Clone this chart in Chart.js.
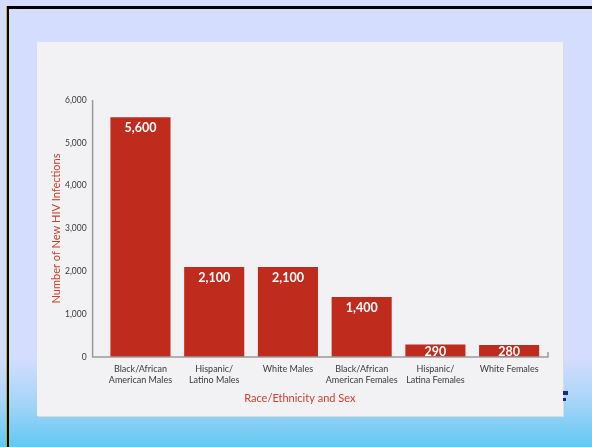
<!DOCTYPE html>
<html>
<head>
<meta charset="utf-8">
<script src="https://cdn.jsdelivr.net/npm/chart.js@4"></script>
<style>
    html, body { margin: 0; padding: 0; }
    body {
        width: 592px; height: 447px; position: relative; overflow: hidden;
        background: linear-gradient(to bottom, #d4ddfe 0%, #d4ddfe 80%, #a6d5f8 90%, #60c8f2 100%);
    }
    #frame-top { position: absolute; left: 6px; top: 6px; width: 586px; height: 3px; background: #000; }
    #frame-left { position: absolute; left: 6px; top: 6px; width: 3px; height: 441px; background: #000; border-left: 1px solid #c8b400; box-sizing: border-box; }
    #panel {
        position: absolute; left: 37px; top: 42px; width: 526px; height: 374px;
        background: #f2f2f4; box-shadow: 1px 1px 0 #dcdcdc;
    }
    #panel canvas { position: absolute; left: 0; top: 0; }
    .dot { position: absolute; background: #23238a; }
</style>
</head>
<body>
<div id="frame-top"></div>
<div id="frame-left"></div>
<div id="panel"><canvas id="hiv-chart" width="526" height="374"></canvas></div>
<div class="dot" style="left:563px;top:391px;width:5px;height:4px"></div>
<div class="dot" style="left:563px;top:398px;width:3px;height:3px"></div>
<script>
const groups = [
    ['Black/African', 'American Males'],
    ['Hispanic/', 'Latino Males'],
    'White Males',
    ['Black/African', 'American Females'],
    ['Hispanic/', 'Latina Females'],
    'White Females'
];
const infections = [5600, 2100, 2100, 1400, 290, 280];
const yTicks = [0, 1000, 2000, 3000, 4000, 5000, 6000];

const barRed = '#bf2c1d';
const titleRed = '#c9412c';
const fontFam = 'Lato, "Open Sans", sans-serif';

const ctx = document.getElementById('hiv-chart').getContext('2d');

// axis lines sit a bit left of the first bar slot, plus white value labels
const extras = {
    id: 'extras',
    afterDraw(chart) {
        const c = chart.ctx;
        const area = chart.chartArea;
        const axisX = area.left - 11;
        c.save();
        c.strokeStyle = '#9a9a9a';
        c.lineWidth = 1.5;
        c.beginPath();
        c.moveTo(axisX, area.top);
        c.lineTo(axisX, area.bottom);
        c.lineTo(area.right + 2, area.bottom);
        c.lineTo(area.right + 2, area.bottom - 5);
        c.stroke();

        const meta = chart.getDatasetMeta(0);
        c.fillStyle = '#fff';
        c.font = 'bold 12.5px ' + fontFam;
        c.textAlign = 'center';
        c.textBaseline = 'middle';
        meta.data.forEach((bar, i) => {
            const y = Math.min(bar.y + 11, (bar.y + bar.base) / 2 + 1);
            c.fillText(infections[i].toLocaleString('en-US'), bar.x, y);
        });

        c.fillStyle = titleRed;
        c.font = '11px ' + fontFam;
        c.fillText('Race/Ethnicity and Sex', (area.left + area.right) / 2 - 25, area.bottom + 41);
        c.restore();
    }
};

new Chart(ctx, {
    type: 'bar',
    data: {
        labels: groups,
        datasets: [{
            data: infections,
            backgroundColor: barRed,
            borderWidth: 0,
            barPercentage: 0.815,
            categoryPercentage: 1
        }]
    },
    options: {
        responsive: false,
        animation: false,
        layout: { padding: { left: 0, top: 58, right: 17, bottom: 0 } },
        plugins: { legend: { display: false }, tooltip: { enabled: false } },
        scales: {
            x: {
                grid: { display: false, drawTicks: false },
                border: { display: false },
                ticks: {
                    color: '#3a3a3a',
                    font: { family: fontFam, size: 9, lineHeight: 1.25 },
                    padding: 6,
                    maxRotation: 0,
                    autoSkip: false
                },
                afterFit(s) { s.height = 59; s.paddingLeft = 0; s.paddingRight = 0; }
            },
            y: {
                min: 0,
                max: 6000,
                grid: { display: false, drawTicks: false },
                border: { display: false },
                afterBuildTicks(s) { s.ticks = yTicks.map(v => ({ value: v })); },
                ticks: {
                    color: '#3a3a3a',
                    font: { family: fontFam, size: 8.5 },
                    padding: 17,
                    callback: v => v.toLocaleString('en-US')
                },
                title: {
                    display: true,
                    text: 'Number of New HIV Infections',
                    color: titleRed,
                    font: { family: fontFam, size: 11 },
                    padding: { top: 13, bottom: 0 }
                },
                afterFit(s) { s.width = 66.6; s.paddingTop = 0; s.paddingBottom = 0; }
            }
        }
    },
    plugins: [extras]
});
</script>
</body>
</html>
